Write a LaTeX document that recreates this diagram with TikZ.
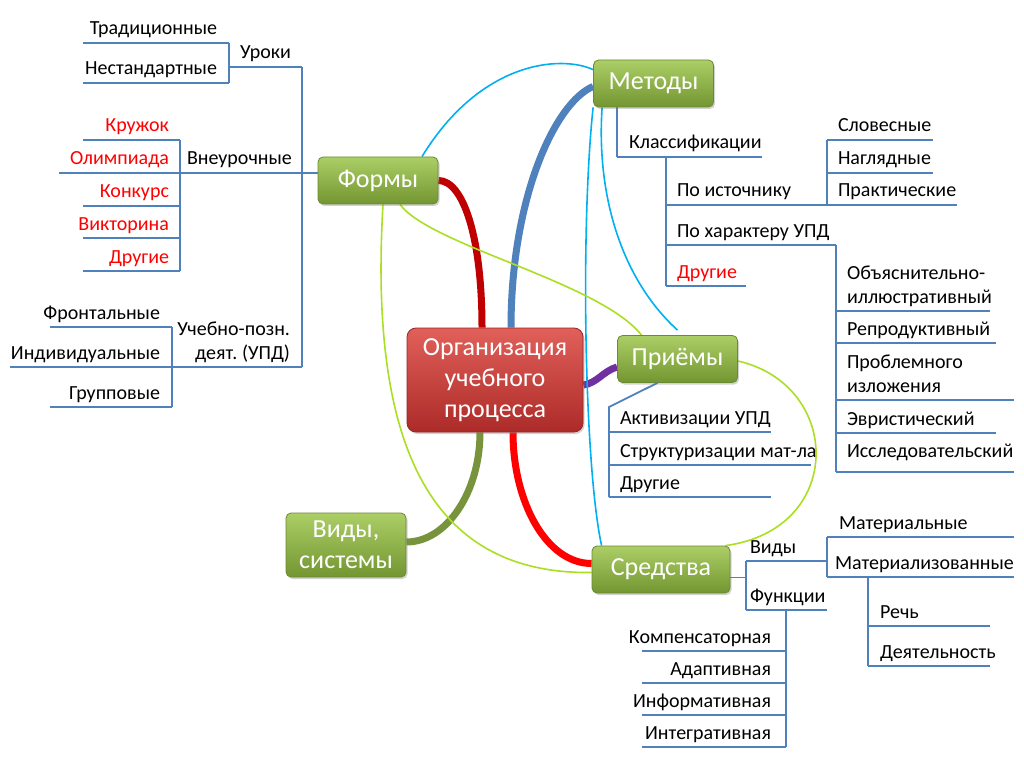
\documentclass[tikz,border=0pt]{standalone}
\usepackage{fontspec}
\setmainfont{Carlito}
\usetikzlibrary{shadows, backgrounds}

\definecolor{treeblue}{RGB}{79,129,189}
\definecolor{linkblue}{RGB}{0,176,240}
\definecolor{linkgreen}{RGB}{172,222,36}
\definecolor{darkred}{RGB}{192,0,0}
\definecolor{purplelink}{RGB}{112,48,160}
\definecolor{olivelink}{RGB}{119,147,60}
\definecolor{boxtop}{RGB}{172,206,102}
\definecolor{boxbottom}{RGB}{116,150,50}
\definecolor{boxedge}{RGB}{108,138,48}
\definecolor{roottop}{RGB}{226,96,90}
\definecolor{rootbottom}{RGB}{172,42,40}
\definecolor{rootedge}{RGB}{148,38,36}

\newcommand\leaffont{\fontsize{20}{24}\selectfont}
\newcommand\boxfont{\fontsize{26}{31}\selectfont}

\tikzset{
  tree/.style={draw=treeblue, line width=1.8pt},
  leaf/.style={font=\leaffont, inner sep=0pt, outer sep=0pt, anchor=south west,
    execute at end node={\rule[-8pt]{0pt}{8pt}},
    append after command={(\tikzlastnode.south west) edge[tree] (\tikzlastnode.south east)}},
  rleaf/.style 2 args={leaf, text width=#1,
    execute at begin node={\raggedleft\leftskip=-40pt plus 1fil\rightskip=#2%
      \spaceskip=0pt\xspaceskip=0pt\frenchspacing\hyphenpenalty=10000\relax}},
  lleaf/.style 2 args={leaf, text width=#1,
    execute at begin node={\raggedright\leftskip=#2\rightskip=-40pt plus 1fil%
      \spaceskip=0pt\xspaceskip=0pt\frenchspacing\hyphenpenalty=10000\relax}},
  topic/.style={rounded corners=5pt, draw=boxedge, line width=0.8pt,
    top color=boxtop, bottom color=boxbottom, text=white, font=\boxfont,
    align=center, inner sep=0pt, minimum width=120pt, minimum height=47pt,
    drop shadow={shadow xshift=1.5pt, shadow yshift=-2pt, opacity=0.35}},
  root/.style={topic, rounded corners=9pt, draw=rootedge,
    top color=roottop, bottom color=rootbottom, minimum width=176pt, minimum height=104pt},
  conn/.style={line width=7pt},
  link/.style={line width=1.6pt},
}

\begin{document}
\begin{tikzpicture}[x=1pt, y=-1pt]

\useasboundingbox (0,0) rectangle (1024,767);

% main topics
\node[root] (root) at (495,380) {Организация\\учебного\\процесса};
\node[topic] (formy) at (378,180.5) {Формы};
\node[topic] (metody) at (653.5,83.5) {Методы};
\node[topic] (priemy) at (677.5,359) {Приёмы};
\node[topic, minimum width=138pt] (sredstva) at (661,569.5) {Средства};
\node[topic, minimum height=64pt] (vidy) at (346,545) {Виды,\\системы};

% forms
\node[rleaf={146pt}{12pt}] (trad) at (83,43) {Традиционные};
\node[rleaf={146pt}{12pt}] (nest) at (83,83) {Нестандартные};
\node[lleaf={73pt}{11pt}] (uroki) at (229,67) {Уроки};
\node[rleaf={97pt}{11pt}, text=red] (krug) at (83,140) {Кружок};
\node[rleaf={121pt}{11pt}, text=red] (olymp) at (59,173) {Олимпиада};
\node[lleaf={122pt}{7pt}] (vneur) at (180,173) {Внеурочные};
\node[rleaf={97pt}{11pt}, text=red] (konk) at (83,206) {Конкурс};
\node[rleaf={97pt}{11pt}, text=red] (vikt) at (83,238) {Викторина};
\node[rleaf={97pt}{11pt}, text=red] (drug1) at (83,271) {Другие};
\node[rleaf={122pt}{12pt}] (front) at (50,327) {Фронтальные};
\node[rleaf={162pt}{12pt}] (indiv) at (10,367) {Индивидуальные};
\node[rleaf={122pt}{12pt}] (grupp) at (50,407) {Групповые};
\node[rleaf={130pt}{12pt}] (upd) at (172,367) {Учебно-позн.\\деят. (УПД)};

\draw[tree] (trad.south east) -- (nest.south east);
\draw[tree] (uroki.south east) -- (upd.south east);
\draw[tree] (vneur.south east) -- (vneur.south east -| formy.west);
\draw[tree] (krug.south east) -- (drug1.south east);
\draw[tree] (front.south east) -- (grupp.south east);

% methods
\node[lleaf={145pt}{12pt}] (klass) at (617,157) {Классификации};
\node[lleaf={161pt}{11pt}] (istoch) at (666,205) {По источнику};
\node[lleaf={170pt}{11pt}] (harakt) at (666,245) {По характеру УПД};
\node[lleaf={80pt}{11pt}, text=red] (drug2) at (666,286) {Другие};
\node[lleaf={106pt}{11pt}] (slov) at (827,140) {Словесные};
\node[lleaf={106pt}{11pt}] (nagl) at (827,173) {Наглядные};
\node[lleaf={130pt}{11pt}] (prakt) at (827,205) {Практические};
\node[lleaf={154pt}{11pt}] (obyasn) at (836,311) {Объяснительно-\\иллюстративный};
\node[lleaf={160pt}{11pt}] (reprod) at (836,343) {Репродуктивный};
\node[lleaf={178pt}{11pt}] (problem) at (836,400) {Проблемного\\изложения};
\node[lleaf={160pt}{11pt}] (evrist) at (836,433) {Эвристический};
\node[lleaf={178pt}{11pt}, execute at end node={\rule[-15pt]{0pt}{15pt}}] (issl) at (836,472) {Исследовательский};

\draw[tree] (metody.south -| klass.south west) -- (klass.south west);
\draw[tree] (istoch.south west |- klass.south) -- (drug2.south west);
\draw[tree] (slov.south west) -- (prakt.south west);
\draw[tree] (harakt.south east) -- (issl.south west);

% techniques
\node[lleaf={162pt}{11pt}] (akt) at (609,432) {Активизации УПД};
\node[lleaf={202pt}{11pt}] (strukt) at (609,465) {Структуризации мат-ла};
\node[lleaf={162pt}{11pt}] (drug3) at (609,497) {Другие};

\draw[tree] ([xshift=-20pt]priemy.south) -- ([yshift=25pt]akt.south west) -- (drug3.south west);

% means
\node[lleaf={81pt}{4pt}] (vidy2) at (746,561) {Виды};
\node[lleaf={81pt}{4pt}] (funk) at (746,610) {Функции};
\node[lleaf={187pt}{12pt}] (mater) at (827,537) {Материальные};
\node[lleaf={187pt}{8pt}] (materz) at (827,577) {Материализованные};
\node[lleaf={122pt}{12pt}] (rech) at (868,626) {Речь};
\node[lleaf={122pt}{12pt}] (deyat) at (868,666) {Деятельность};
\node[rleaf={144pt}{15pt}] (komp) at (642,651) {Компенсаторная};
\node[rleaf={144pt}{15pt}] (adapt) at (642,683) {Адаптивная};
\node[rleaf={144pt}{15pt}] (inform) at (642,715) {Информативная};
\node[rleaf={144pt}{15pt}] (integr) at (642,747) {Интегративная};

\draw[tree] ([yshift=-8pt]sredstva.east) -- ([yshift=-8pt]sredstva.east -| vidy2.south west);
\draw[tree] (vidy2.south west) -- (funk.south west);
\draw[tree] (mater.south west) -- (materz.south west);
\draw[tree] (rech.south west |- materz.south) -- (deyat.south west);
\draw[tree] (komp.south east |- funk.south) -- (integr.south east);

\begin{scope}[on background layer]
\fill[white] (0,0) rectangle (1024,767);

% thick branches
\draw[conn, darkred] (formy.east) .. controls +(25,0) and +(0,-90) .. ([xshift=-13pt]root.north);
\draw[conn, treeblue] ([xshift=16pt]root.north) .. controls +(0,-130) and +(-38,16) .. ([yshift=-3pt]metody.west);
\draw[conn, purplelink] ([yshift=-5pt]root.east) .. controls +(14,-2) and +(-14,4) .. ([yshift=-8pt]priemy.west);
\draw[conn, red] ([xshift=18pt]root.south) .. controls +(0,70) and +(-45,0) .. ([yshift=6pt]sredstva.west);
\draw[conn, olivelink] ([xshift=-15pt]root.south) .. controls +(0,60) and +(40,0) .. ([yshift=3pt]vidy.east);

% thin relations
\draw[link, linkblue] ([xshift=44pt]formy.north) .. controls +(58,-95) and +(-33,-15) .. ([yshift=-10pt]metody.north west);
\draw[link, linkblue] (metody.south west) .. controls +(-13,123) and +(-17,-77) .. ([xshift=10pt]sredstva.north west);
\draw[link, linkblue] ([xshift=9pt]metody.south west) .. controls +(-6,90) and +(-55,-50) .. ([yshift=5pt]priemy.north);
\draw[link, linkgreen] ([xshift=22pt]formy.south) .. controls +(30,41) and +(-42,-53) .. ([xshift=-36pt]priemy.north);
\draw[link, linkgreen] ([xshift=5pt]formy.south) .. controls +(-15,255) and +(-153,2) .. ([yshift=-3pt]sredstva.west);
\draw[link, linkgreen] ([yshift=-2pt]priemy.east) .. controls +(105,24) and +(120,-16) .. ([xshift=-5pt]sredstva.north east);
\end{scope}

\end{tikzpicture}
\end{document}
